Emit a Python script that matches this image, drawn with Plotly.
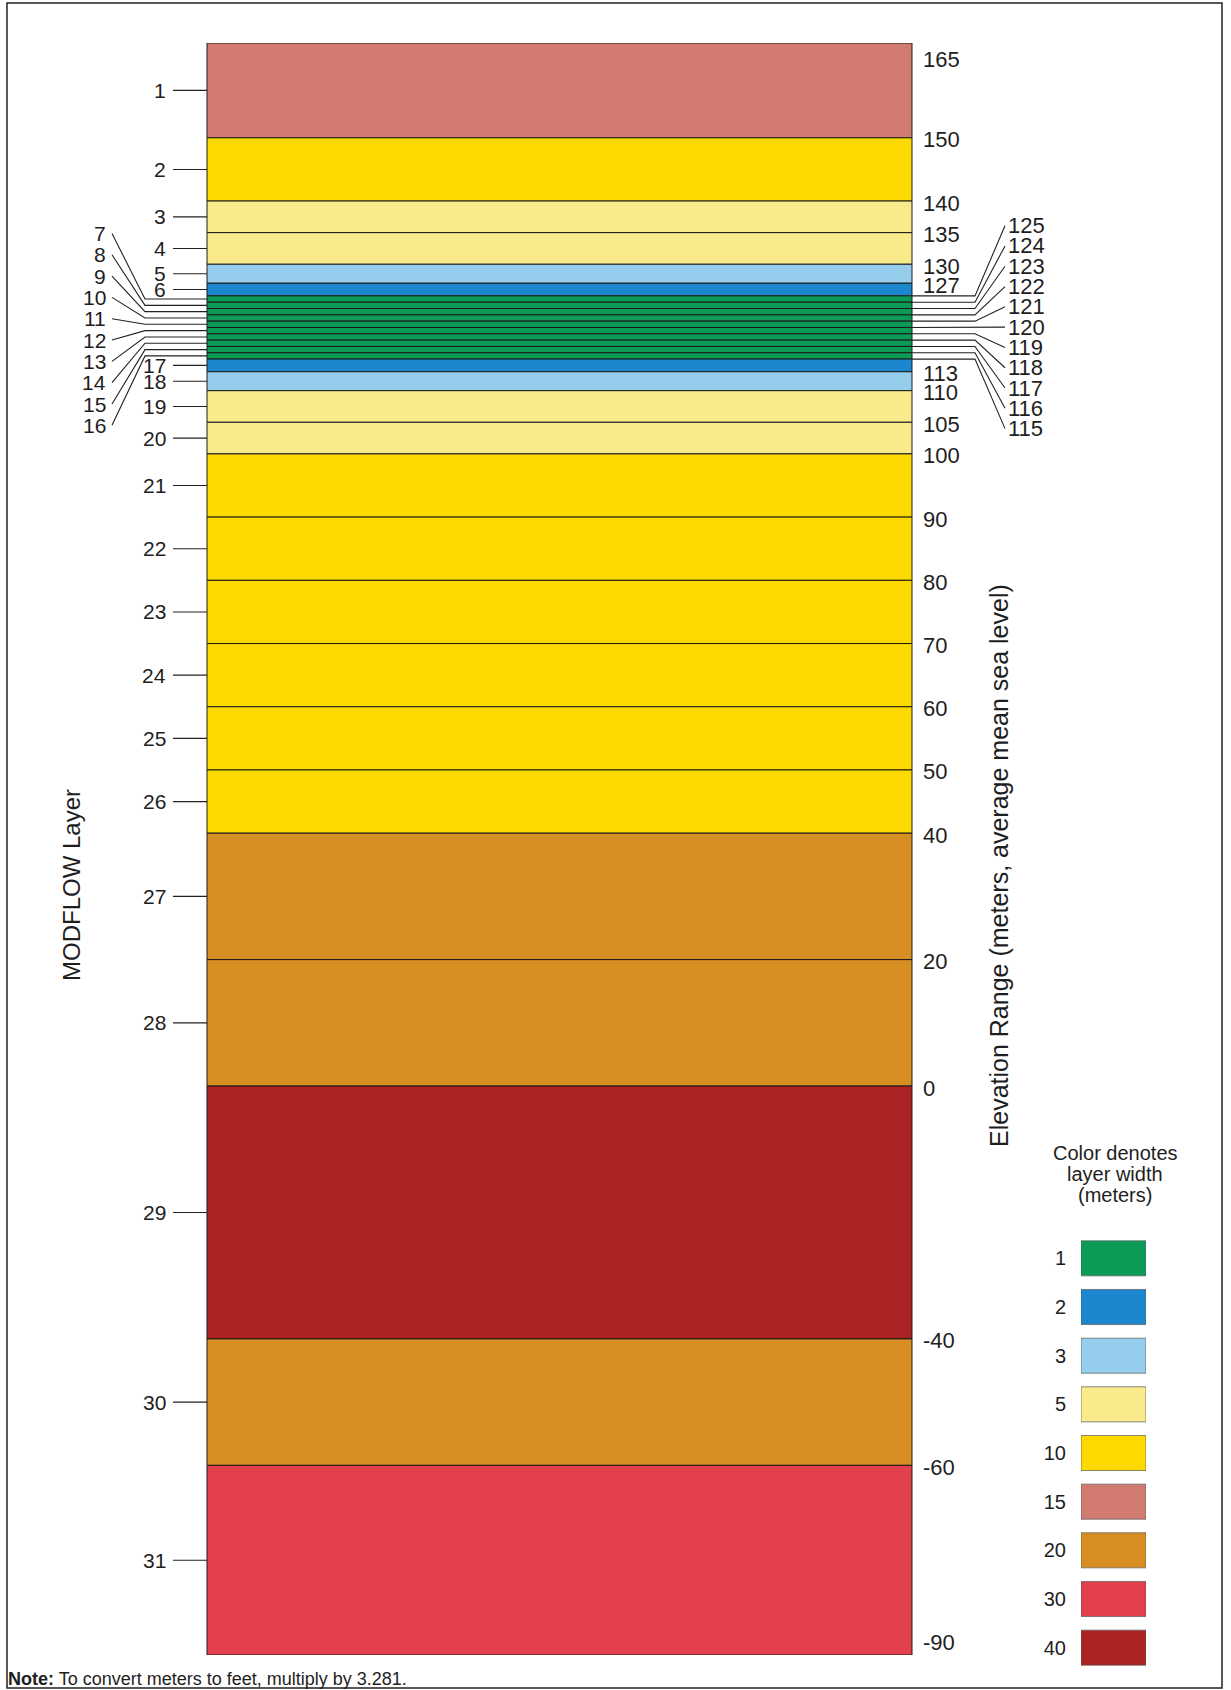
import plotly.graph_objects as go

W, H = 1231, 1690

# ---------------- data ----------------
layer_ids = list(range(1, 32))
boundary_elev = [165, 150, 140, 135, 130, 127, 125, 124, 123, 122, 121, 120, 119, 118, 117, 116,
                 115, 113, 110, 105, 100, 90, 80, 70, 60, 50, 40, 20, 0, -40, -60, -90]
fan_layers = list(range(7, 17))
elev_labels = [165, 150, 140, 135, 130, 127, 113, 110, 105, 100, 90, 80, 70, 60, 50, 40, 20, 0, -40, -60, -90]
fan_elev_labels = [125, 124, 123, 122, 121, 120, 119, 118, 117, 116, 115]
legend_widths = [1, 2, 3, 5, 10, 15, 20, 30, 40]
legend_colors = ["#0c9a57", "#1c86cf", "#97cdec", "#f9ea8c", "#fdd900",
                 "#d27b70", "#d78f24", "#e2404a", "#ac2323"]
y_title_left = "MODFLOW Layer"
y_title_right = "Elevation Range (meters, average mean sea level)"
legend_title = ["Color denotes", "layer width", "(meters)"]
note_text = "<b>Note:</b> To convert meters to feet, multiply by 3.281."

# ---------------- derived ----------------
tops = boundary_elev[:-1]
bottoms = boundary_elev[1:]
thick = [t - b for t, b in zip(tops, bottoms)]
mids = [(t + b) / 2 for t, b in zip(tops, bottoms)]
cmap = dict(zip(legend_widths, legend_colors))
layer_colors = [cmap[t] for t in thick]

# ---------------- geometry (pixels) ----------------
COL_L, COL_R, COL_T, COL_B = 207, 912, 43, 1655


def xd(px):
    return (px - COL_L) / (COL_R - COL_L)


TXT = "#1e1e1e"
FONT = "Arial, Liberation Sans, sans-serif"

fig = go.Figure()

# layer column
fig.add_trace(go.Bar(
    x=[0.5] * len(layer_ids), y=thick, base=bottoms, width=[1] * len(layer_ids),
    marker=dict(color=layer_colors, line=dict(color="#1a1a1a", width=1)),
    customdata=layer_ids, hovertemplate="Layer %{customdata}<extra></extra>",
    xaxis="x", yaxis="y", showlegend=False))

# leader lines
lx, ly = [], []
L_CENTER, L_SPREAD = 119.7, 3.374
R_CENTER, R_SPREAD = 120.05, 3.21
left_label_y = {}
for lid, m in zip(layer_ids, mids):
    if lid in fan_layers:
        yy = L_CENTER + (m - 120) * L_SPREAD
        left_label_y[lid] = yy
        lx += [0, xd(145), xd(112), None]
        ly += [m, m, yy, None]
    else:
        left_label_y[lid] = m
        lx += [xd(173), 0, None]
        ly += [m, m, None]
right_label_y = {}
for e in fan_elev_labels:
    yy = R_CENTER + (e - 120) * R_SPREAD
    right_label_y[e] = yy
    lx += [1, xd(975), xd(1005), None]
    ly += [e, e, yy, None]
fig.add_trace(go.Scatter(x=lx, y=ly, mode="lines", line=dict(color="#222", width=1.1),
                         hoverinfo="skip", showlegend=False, xaxis="x", yaxis="y"))

# legend swatches
fig.add_trace(go.Bar(
    x=[1] * len(legend_widths), y=[str(w) for w in legend_widths], base=0,
    width=[0.72] * len(legend_widths), orientation="h",
    marker=dict(color=legend_colors, line=dict(color="rgba(90,90,90,0.7)", width=1)),
    hoverinfo="skip", showlegend=False, xaxis="x2", yaxis="y2"))

ann = []
# layer labels
for lid in layer_ids:
    fan = lid in fan_layers
    ann.append(dict(x=xd(108) if fan else xd(168), y=left_label_y[lid], xref="x", yref="y",
                    text=str(lid), showarrow=False, xanchor="right", yanchor="middle",
                    font=dict(size=21, color=TXT, family=FONT)))
# elevation labels
ymax, ymin = max(boundary_elev), min(boundary_elev)
for e in elev_labels:
    ya = "top" if e == ymax else ("bottom" if e == ymin else "middle")
    ann.append(dict(x=xd(921), y=e, xref="x", yref="y", text=str(e), showarrow=False,
                    xanchor="left", yanchor=ya, yshift=-2,
                    font=dict(size=22, color=TXT, family=FONT)))
for e in fan_elev_labels:
    ann.append(dict(x=xd(1006), y=right_label_y[e], xref="x", yref="y", text=str(e),
                    showarrow=False, xanchor="left", yanchor="middle",
                    font=dict(size=22, color=TXT, family=FONT)))
# titles
ann.append(dict(x=71 / W, y=1 - 885 / H, xref="paper", yref="paper", text=y_title_left,
                textangle=-90, showarrow=False, xanchor="center", yanchor="middle",
                font=dict(size=24, color=TXT, family=FONT)))
ann.append(dict(x=999 / W, y=1 - 866 / H, xref="paper", yref="paper", text=y_title_right,
                textangle=-90, showarrow=False, xanchor="center", yanchor="middle",
                font=dict(size=25, color=TXT, family=FONT)))
for i, t in enumerate(legend_title):
    ann.append(dict(x=1115 / W, y=1 - (1153 + 21 * i) / H, xref="paper", yref="paper",
                    text=t, showarrow=False, xanchor="center", yanchor="middle",
                    font=dict(size=20, color=TXT, family=FONT)))
ann.append(dict(x=6 / W, y=1 - 1679 / H, xref="paper", yref="paper", text=note_text,
                showarrow=False, xanchor="left", yanchor="middle",
                font=dict(size=18, color=TXT, family=FONT)))

fig.update_layout(
    width=W, height=H, margin=dict(l=0, r=0, t=0, b=0),
    paper_bgcolor="white", plot_bgcolor="rgba(0,0,0,0)",
    barmode="overlay", showlegend=False,
    xaxis=dict(domain=[0, 1], range=[xd(0), xd(W)], visible=False, fixedrange=True),
    yaxis=dict(domain=[1 - COL_B / H, 1 - COL_T / H], range=[ymin, ymax], visible=False,
               fixedrange=True),
    xaxis2=dict(domain=[1081 / W, 1146 / W], range=[0, 1], visible=False, anchor="y2"),
    yaxis2=dict(domain=[1 - 1672 / H, 1 - 1234 / H], type="category", autorange="reversed",
                anchor="x2", showgrid=False, zeroline=False, showline=False, ticks="",
                ticklabelstandoff=14,
                tickfont=dict(size=20, color=TXT, family=FONT)),
    annotations=ann,
    shapes=[dict(type="rect", xref="paper", yref="paper", x0=7 / W, x1=1222 / W,
                 y0=1 - 1688 / H, y1=1 - 3 / H, line=dict(color="#222", width=1.5),
                 fillcolor="rgba(0,0,0,0)", layer="above")],
)

fig.write_html("out.html", config={"displayModeBar": False},
               post_script="document.body.style.margin='0';document.body.style.overflow='hidden';")
